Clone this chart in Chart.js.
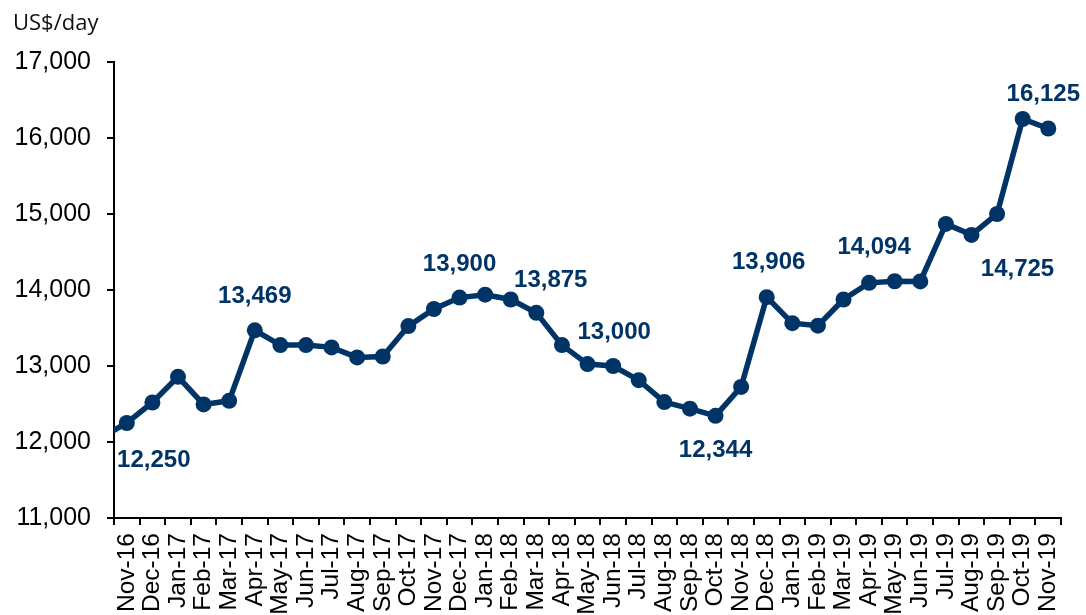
<!DOCTYPE html>
<html>
<head>
<meta charset="utf-8">
<script src="https://cdn.jsdelivr.net/npm/chart.js@4.4.1/dist/chart.umd.min.js"></script>
<style>
  html, body { margin: 0; padding: 0; background: #ffffff; }
  #wrap { width: 1086px; height: 615px; position: relative; }
</style>
</head>
<body>
<div id="wrap"><canvas id="c" width="1086" height="615"></canvas></div>
<script>
// ---- data ----
const months = [
  'Oct-16','Nov-16','Dec-16','Jan-17','Feb-17','Mar-17','Apr-17','May-17','Jun-17','Jul-17',
  'Aug-17','Sep-17','Oct-17','Nov-17','Dec-17','Jan-18','Feb-18','Mar-18','Apr-18','May-18',
  'Jun-18','Jul-18','Aug-18','Sep-18','Oct-18','Nov-18','Dec-18','Jan-19','Feb-19','Mar-19',
  'Apr-19','May-19','Jun-19','Jul-19','Aug-19','Sep-19','Oct-19','Nov-19'
];
const rates = [
  12060, 12250, 12520, 12858, 12494, 12542, 13469, 13275, 13275, 13245,
  13113, 13125, 13525, 13750, 13900, 13938, 13875, 13700, 13275, 13025,
  13000, 12813, 12525, 12438, 12344, 12725, 13906, 13563, 13531, 13875,
  14094, 14115, 14113, 14870, 14725, 15000, 16250, 16125
];
const firstShownMonth = 'Nov-16';
const labelledMonths = ['Nov-16','Apr-17','Dec-17','Feb-18','Jun-18','Oct-18','Dec-18','Apr-19','Aug-19','Nov-19'];
const yTicks = [11000, 12000, 13000, 14000, 15000, 16000, 17000];
const unitLabel = 'US$/day';

// ---- styling / placement (not data) ----
const NAVY = '#003467';
const labelOffsets = {
  'Nov-16': [27, 37], 'Apr-17': [0, -34], 'Dec-17': [0, -33], 'Feb-18': [40, -19],
  'Jun-18': [1, -34], 'Oct-18': [0, 35], 'Dec-18': [2, -35], 'Apr-19': [5, -35],
  'Aug-19': [46, 34], 'Nov-19': [-5, -34]
};

const fmt = v => v.toLocaleString('en-US');

const valueLabels = {
  id: 'valueLabels',
  afterDatasetsDraw(chart) {
    const meta = chart.getDatasetMeta(0);
    const ctx = chart.ctx;
    ctx.save();
    ctx.fillStyle = NAVY;
    ctx.font = 'bold 24px "Liberation Sans", Arial, sans-serif';
    ctx.textAlign = 'center';
    ctx.textBaseline = 'middle';
    labelledMonths.forEach(m => {
      const i = months.indexOf(m);
      const pt = meta.data[i];
      if (!pt) return;
      const off = labelOffsets[m] || [0, -34];
      ctx.fillText(fmt(rates[i]), pt.x + off[0], pt.y + off[1]);
    });
    ctx.restore();
  }
};

const unitTitle = {
  id: 'unitTitle',
  afterDraw(chart) {
    const ctx = chart.ctx;
    ctx.save();
    ctx.fillStyle = '#111111';
    ctx.font = '22px "Open Sans", "Noto Sans", sans-serif';
    ctx.textAlign = 'left';
    ctx.textBaseline = 'alphabetic';
    ctx.fillText(unitLabel, 13, 30);
    ctx.restore();
  }
};

new Chart(document.getElementById('c'), {
  type: 'line',
  data: {
    labels: months,
    datasets: [{
      data: rates,
      borderColor: NAVY,
      backgroundColor: NAVY,
      borderWidth: 5.5,
      tension: 0,
      pointRadius: c => (c.dataIndex === 0 ? 0 : 8),
      pointHoverRadius: c => (c.dataIndex === 0 ? 0 : 8),
      pointBackgroundColor: NAVY,
      pointBorderWidth: 0,
      clip: { left: 0, top: false, right: false, bottom: false }
    }]
  },
  options: {
    responsive: false,
    animation: false,
    events: [],
    layout: { padding: { top: 62, right: 24, left: 0, bottom: 0 } },
    plugins: { legend: { display: false }, tooltip: { enabled: false }, title: { display: false } },
    scales: {
      x: {
        type: 'category',
        min: firstShownMonth,
        offset: true,
        grid: { offset: true, drawOnChartArea: false, drawTicks: true, tickLength: 7, color: '#000', lineWidth: 2 },
        border: { display: true, color: '#000', width: 2 },
        ticks: {
          autoSkip: false, minRotation: 90, maxRotation: 90, padding: 8,
          color: '#000',
          font: { family: '"Liberation Sans", Arial, sans-serif', size: 24.5 }
        },
        afterFit: s => { s.height = 97; }
      },
      y: {
        min: 11000, max: 17000,
        afterBuildTicks: s => { s.ticks = yTicks.map(v => ({ value: v })); },
        grid: { drawOnChartArea: false, drawTicks: true, tickLength: 7, color: '#000', lineWidth: 2 },
        border: { display: true, color: '#000', width: 2 },
        ticks: {
          padding: 16, color: '#000',
          font: { family: '"Liberation Sans", Arial, sans-serif', size: 25 },
          callback: v => fmt(v)
        },
        afterFit: s => { s.width = 114; }
      }
    }
  },
  plugins: [valueLabels, unitTitle]
});
</script>
</body>
</html>
